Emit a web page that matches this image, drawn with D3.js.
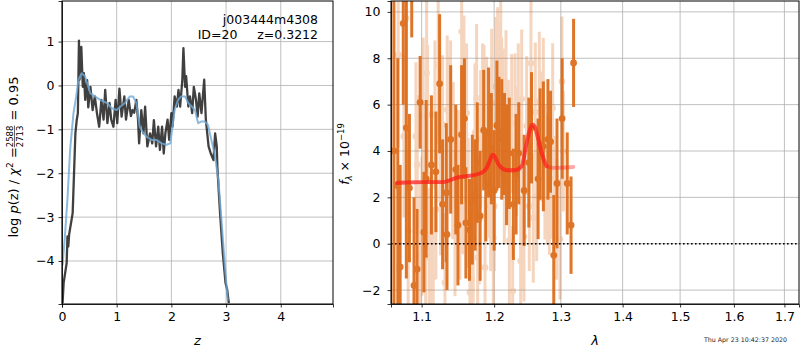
<!DOCTYPE html>
<html>
<head>
<meta charset="utf-8">
<script src="https://cdn.jsdelivr.net/npm/d3@7"></script>
<style>
  body { margin: 0; background: #fff; }
  svg { font-family: "DejaVu Sans", sans-serif; }
  .grid line { stroke: #b0b0b0; stroke-width: 0.8; }
  .axis path, .axis line { stroke: #000; stroke-width: 0.8; }
  .axis text { font-size: 12.5px; fill: #000; font-family: "DejaVu Sans", sans-serif; }
</style>
</head>
<body>
<svg id="chart" width="800" height="350"></svg>
<script>
// ---- left panel: log p(z)
const zTicks = [0, 1, 2, 3, 4]
const lpTicks = [-4, -3, -2, -1, 0, 1]
const pzZ = [0.01, 0.03, 0.085, 0.10, 0.115, 0.13, 0.195, 0.22, 0.245, 0.27, 0.29, 0.31, 0.32, 0.353, 0.38, 0.40, 0.425, 0.46, 0.48, 0.52, 0.56, 0.60, 0.64, 0.68, 0.72, 0.76, 0.79, 0.83, 0.87, 0.90, 0.94, 0.98, 1.01, 1.05, 1.09, 1.14, 1.17, 1.22, 1.26, 1.29, 1.32, 1.36, 1.39, 1.41, 1.45, 1.49, 1.52, 1.56, 1.61, 1.65, 1.68, 1.72, 1.76, 1.79, 1.83, 1.86, 1.89, 1.93, 1.96, 2.00, 2.02, 2.06, 2.10, 2.13, 2.16, 2.20, 2.22, 2.25, 2.27, 2.31, 2.34, 2.38, 2.41, 2.45, 2.48, 2.51, 2.55, 2.60, 2.63, 2.68, 2.72, 2.77, 2.80, 2.83, 2.84, 2.89, 2.94, 2.99, 3.02, 3.05]
const pzLog = [-4.96, -4.5, -4.05, -3.44, -3.67, -3.4, -2.91, -2.0, -1.09, -0.78, -0.63, 1.02, 0.13, 0.88, -0.03, 0.28, -0.33, 0.12, -0.5, -0.03, -0.56, -0.25, -0.64, -0.94, -0.33, -0.78, -0.1, -0.86, -0.4, -0.78, -0.94, -0.33, -0.86, -0.07, -0.71, -0.25, -0.78, -0.33, -0.7, -0.56, -0.62, -0.33, -0.78, -1.32, -0.56, -1.09, -0.48, -1.39, -1.09, -1.32, -0.79, -1.39, -0.94, -1.47, -0.94, -1.55, -1.09, -0.78, -1.24, -0.63, -0.94, -0.25, -0.48, -0.1, -0.48, 0.13, 0.85, -0.03, 0.21, -0.48, -0.25, -0.63, -0.03, -0.33, -0.71, -0.18, -0.63, 0.13, -0.78, -1.39, -1.55, -1.7, -1.09, -1.39, -1.85, -2.91, -3.82, -4.5, -4.65, -4.96]
const chiZ = [0.01, 0.05, 0.10, 0.15, 0.21, 0.26, 0.30, 0.36, 0.42, 0.48, 0.52, 0.60, 0.70, 0.82, 0.91, 1.00, 1.07, 1.15, 1.24, 1.30, 1.36, 1.42, 1.49, 1.55, 1.64, 1.73, 1.82, 1.91, 1.98, 2.02, 2.06, 2.12, 2.18, 2.25, 2.31, 2.37, 2.43, 2.49, 2.55, 2.61, 2.67, 2.73, 2.79, 2.86, 2.92, 2.98, 3.03]
const chiLog = [-4.1, -3.49, -2.58, -1.44, -0.63, -0.25, 0.13, 0.28, 0.21, -0.03, -0.18, -0.25, -0.33, -0.4, -0.52, -0.56, -0.48, -0.4, -0.25, -0.25, -0.4, -0.94, -1.09, -1.17, -1.24, -1.24, -1.32, -1.35, -1.32, -0.94, -0.56, -0.33, -0.25, -0.25, -0.4, -0.48, -0.56, -0.86, -0.82, -0.82, -0.9, -1.24, -1.55, -2.16, -3.15, -4.13, -4.9]

// ---- right panel: spectrum
const lamTicks = [1.1, 1.2, 1.3, 1.4, 1.5, 1.6, 1.7]
const fluxTicks = [-2, 0, 2, 4, 6, 8, 10]
const darkLam = [1.064, 1.069, 1.072, 1.076, 1.080, 1.084, 1.087, 1.090, 1.094, 1.098, 1.103, 1.106, 1.113, 1.119, 1.124, 1.128, 1.133, 1.134, 1.139, 1.146, 1.149, 1.154, 1.158, 1.160, 1.165, 1.169, 1.173, 1.176, 1.180, 1.185, 1.188, 1.192, 1.196, 1.200, 1.204, 1.207, 1.211, 1.215, 1.218, 1.222, 1.228, 1.232, 1.236, 1.244, 1.251, 1.255, 1.265, 1.268, 1.273, 1.280, 1.284, 1.289, 1.294, 1.302, 1.310, 1.316, 1.320]
const darkFlux = [4.0, 2.5, -1.0, 9.5, 5.0, 2.4, 11.5, -1.8, -1.1, 6.1, 0.5, 2.8, 3.4, 3.1, 6.9, 1.7, 2.2, 0.4, 4.5, 3.2, 0.8, 4.7, 5.4, 0.9, 0.6, 1.9, 2.1, 3.5, 1.2, 4.9, 2.5, 4.8, 4.1, 2.3, 5.1, 4.8, 4.5, 4.3, 3.4, 3.9, 1.7, 3.0, 3.9, 2.3, 3.5, 5.0, 2.8, 4.3, 4.2, 4.5, 4.4, -0.5, 2.6, 5.4, 2.6, 0.8, 7.8]
const darkErr = [8.0, 5.5, 4.4, 3.5, 6.5, 3.2, 2.6, 3.8, 2.6, 2.0, 2.6, 3.4, 3.0, 2.6, 3.0, 2.8, 3.0, 2.4, 3.2, 2.8, 2.6, 3.0, 2.6, 2.4, 2.2, 2.8, 2.4, 2.6, 2.8, 2.6, 2.4, 2.8, 2.4, 2.6, 2.8, 2.4, 2.6, 2.2, 2.6, 2.4, 2.4, 2.6, 2.2, 2.4, 2.8, 2.4, 2.6, 2.4, 2.8, 2.6, 2.2, 2.6, 2.8, 2.6, 2.2, 2.1, 1.9]
const lightLam = [1.0695, 1.0769, 1.0795, 1.0824, 1.0925, 1.0942, 1.0978, 1.1004, 1.1021, 1.1053, 1.1066, 1.1079, 1.1101, 1.1124, 1.1154, 1.1177, 1.1190, 1.1221, 1.1244, 1.1254, 1.1280, 1.1312, 1.1343, 1.1370, 1.1389, 1.1417, 1.1425, 1.1449, 1.1494, 1.1518, 1.1541, 1.1555, 1.1573, 1.1587, 1.1610, 1.1632, 1.1657, 1.1680, 1.1702, 1.1727, 1.1750, 1.1765, 1.1787, 1.1807, 1.1835, 1.1855, 1.1869, 1.1892, 1.1931, 1.1950, 1.1964, 1.1988, 1.2002, 1.2026, 1.2051, 1.2070, 1.2095, 1.2109, 1.2133, 1.2147, 1.2172, 1.2206, 1.2221, 1.2255, 1.2270, 1.2304, 1.2329, 1.2353, 1.2388, 1.2403, 1.2418, 1.2437, 1.2477, 1.2517, 1.2542, 1.2577, 1.2607, 1.2628, 1.2668, 1.2689, 1.2729, 1.2754, 1.2790, 1.2821, 1.2842, 1.2873, 1.2893, 1.2936, 1.2986, 1.3018, 1.3039]
const lightFlux = [8.15, 4.63, 9.73, 0.54, 4.63, 3.41, -0.53, 0.76, 5.49, -0.10, 7.36, 5.57, -0.60, -0.10, -1.46, 5.57, 1.48, 7.72, 4.78, 2.70, 5.13, -1.68, 5.78, 5.06, 5.57, 3.20, 3.77, 0.54, 2.77, 1.45, 9.15, 2.55, 6.64, 4.78, 5.64, 1.76, -2.10, -1.54, 0.26, 4.78, 6.28, -0.60, 1.05, 4.49, 5.64, 5.57, -1.03, 5.06, 3.06, 1.62, 6.07, 0.26, 1.62, 6.78, 7.00, 6.57, 7.86, 5.90, 5.42, 2.77, 6.21, 4.27, 0.14, 5.18, -2.04, 5.21, 3.99, 5.64, -0.75, 6.24, 0.83, 0.30, 5.09, 1.62, 7.79, 1.12, 5.68, 2.05, 6.14, 4.63, 5.88, 2.98, 2.77, 2.12, 2.80, 5.85, 2.05, 1.05, 0.19, 7.00, 3.99]
const lightErr = [4.0, 3.5, 4.0, 3.5, 3.2, 3.0, 3.2, 3.0, 3.4, 2.8, 3.4, 3.0, 3.0, 3.2, 3.0, 3.2, 3.0, 3.4, 3.0, 3.2, 3.0, 3.0, 3.2, 3.0, 3.2, 3.0, 3.2, 2.8, 3.0, 3.0, 3.4, 3.0, 3.2, 3.0, 3.0, 2.8, 3.0, 3.0, 2.8, 3.0, 3.2, 3.0, 2.8, 3.0, 3.0, 3.0, 3.0, 3.0, 2.8, 2.8, 3.2, 3.0, 2.8, 3.0, 3.2, 3.0, 3.2, 3.0, 3.0, 2.8, 3.0, 2.8, 3.0, 3.0, 2.8, 3.0, 2.8, 3.0, 2.8, 3.0, 2.8, 2.8, 3.0, 2.8, 3.0, 2.8, 3.0, 2.8, 3.0, 2.8, 3.0, 2.8, 2.8, 2.6, 2.6, 2.8, 2.6, 2.6, 2.6, 2.8, 2.6]
const modelLam = [1.068, 1.0703, 1.1021, 1.1287, 1.1465, 1.1797, 1.1892, 1.194, 1.1977, 1.2005, 1.2035, 1.2084, 1.218, 1.2304, 1.2403, 1.2477, 1.253, 1.2566, 1.2600, 1.2628, 1.2703, 1.2779, 1.2879, 1.3196]
const modelFlux = [2.62, 2.63, 2.66, 2.66, 2.84, 3.03, 3.27, 3.6, 3.84, 3.78, 3.6, 3.34, 3.17, 3.17, 3.34, 4.35, 4.95, 5.14, 5.05, 4.78, 3.92, 3.34, 3.27, 3.31]

const svg = d3.select('#chart')
const left = { x0: 62, x1: 333, y0: 1, y1: 304 }
const right = { x0: 391, x1: 799, y0: 1, y1: 304 }

// ---------- left panel
const xz = d3.scaleLinear().domain([0, 4.955]).range([left.x0, left.x1])
const ylp = d3.scaleLinear().domain([-4.98, 1.925]).range([left.y1, left.y0])
const gl = svg.append('g')

gl.append('g').attr('class', 'grid')
  .selectAll('line').data(zTicks).join('line')
  .attr('x1', d => xz(d)).attr('x2', d => xz(d)).attr('y1', left.y0).attr('y2', left.y1)
gl.append('g').attr('class', 'grid')
  .selectAll('line').data(lpTicks).join('line')
  .attr('x1', left.x0).attr('x2', left.x1).attr('y1', d => ylp(d)).attr('y2', d => ylp(d))

gl.append('defs').append('clipPath').attr('id', 'clipL')
  .append('rect').attr('x', left.x0).attr('y', left.y0)
  .attr('width', left.x1 - left.x0).attr('height', left.y1 - left.y0)

const lineL = d3.line().x(d => xz(d[0])).y(d => ylp(d[1]))
const plot = gl.append('g').attr('clip-path', 'url(#clipL)')
plot.append('path')
  .attr('d', lineL(pzZ.map((z, i) => [z, pzLog[i]])))
  .attr('fill', 'none').attr('stroke', '#1e1e1e').attr('stroke-opacity', 0.85)
  .attr('stroke-width', 2.3).attr('stroke-linejoin', 'round')
plot.append('path')
  .attr('d', lineL(chiZ.map((z, i) => [z, chiLog[i]])))
  .attr('fill', 'none').attr('stroke', '#6fa8d6').attr('stroke-opacity', 0.8)
  .attr('stroke-width', 2).attr('stroke-linejoin', 'round')

gl.append('g').attr('class', 'axis')
  .attr('transform', 'translate(0,' + left.y1 + ')')
  .call(d3.axisBottom(xz).tickValues(zTicks).tickSize(3.5).tickPadding(5).tickFormat(d3.format('d')))
gl.append('g').attr('class', 'axis')
  .attr('transform', 'translate(' + left.x0 + ',0)')
  .call(d3.axisLeft(ylp).tickValues(lpTicks).tickSize(3.5).tickPadding(4).tickFormat(d => d < 0 ? '\u2212' + Math.abs(d) : d))
gl.append('rect').attr('x', left.x0).attr('y', left.y0)
  .attr('width', left.x1 - left.x0).attr('height', left.y1 - left.y0)
  .attr('fill', 'none').attr('stroke', '#000').attr('stroke-width', 1)

gl.append('text').attr('x', 318).attr('y', 24).attr('text-anchor', 'end')
  .attr('font-size', 12.5).text('j003444m4308')
gl.append('text').attr('x', 318).attr('y', 39).attr('text-anchor', 'end')
  .attr('font-size', 12.5).attr('xml:space', 'preserve').text('ID=20     z=0.3212')

gl.append('text').attr('x', (left.x0 + left.x1) / 2).attr('y', 345)
  .attr('text-anchor', 'middle').attr('font-size', 13).attr('font-style', 'italic').text('z')

// y label with a stacked fraction
const yl = gl.append('g').attr('transform', 'translate(18,157) rotate(-90)')
const t1 = yl.append('text').attr('font-size', 13).attr('x', 0).attr('y', 0)
t1.append('tspan').text('log ')
t1.append('tspan').attr('font-style', 'italic').text('p')
t1.append('tspan').text('(z) / ')
t1.append('tspan').attr('font-style', 'italic').text('\u03c7')
t1.append('tspan').attr('font-size', 9).attr('dy', -5).text('2')
t1.append('tspan').attr('dy', 5).text(' = ')
const w1 = t1.node().getComputedTextLength()
const num = yl.append('text').attr('font-size', 8.5).attr('x', w1).attr('y', -5).text('2588')
const den = yl.append('text').attr('font-size', 8.5).attr('x', w1).attr('y', 5).text('2713')
const wf = Math.max(num.node().getComputedTextLength(), den.node().getComputedTextLength())
yl.append('line').attr('x1', w1).attr('x2', w1 + wf).attr('y1', -3.5).attr('y2', -3.5)
  .attr('stroke', '#000').attr('stroke-width', 0.6)
const t3 = yl.append('text').attr('font-size', 13).attr('x', w1 + wf + 1).attr('y', 0)
  .attr('xml:space', 'preserve').text(' = 0.95')
const total = w1 + wf + 1 + t3.node().getComputedTextLength()
yl.selectAll('text,line').attr('transform', 'translate(' + (-total / 2) + ',0)')

// ---------- right panel
const xl = d3.scaleLog().domain([1.0603, 1.730]).range([right.x0, right.x1])
const yf = d3.scaleLinear().domain([-2.6, 10.47]).range([right.y1, right.y0])
const gr = svg.append('g')

gr.append('g').attr('class', 'grid')
  .selectAll('line').data(lamTicks).join('line')
  .attr('x1', d => xl(d)).attr('x2', d => xl(d)).attr('y1', right.y0).attr('y2', right.y1)
gr.append('g').attr('class', 'grid')
  .selectAll('line').data(fluxTicks).join('line')
  .attr('x1', right.x0).attr('x2', right.x1).attr('y1', d => yf(d)).attr('y2', d => yf(d))

gr.append('defs').append('clipPath').attr('id', 'clipR')
  .append('rect').attr('x', right.x0).attr('y', right.y0)
  .attr('width', right.x1 - right.x0).attr('height', right.y1 - right.y0)
const pr = gr.append('g').attr('clip-path', 'url(#clipR)')

const orange = '#dd6a17'
const light = lightLam.map((l, i) => ({ l, f: lightFlux[i], e: lightErr[i] }))
const dark = darkLam.map((l, i) => ({ l, f: darkFlux[i], e: darkErr[i] }))

const lg = pr.append('g').attr('opacity', 0.28)
light.forEach(d => {
  lg.append('line').attr('x1', xl(d.l)).attr('x2', xl(d.l))
    .attr('y1', yf(d.f - d.e)).attr('y2', yf(d.f + d.e))
    .attr('stroke', orange).attr('stroke-width', 3)
  lg.append('circle').attr('cx', xl(d.l)).attr('cy', yf(d.f)).attr('r', 3.3).attr('fill', orange)
})

const dg = pr.append('g').attr('opacity', 0.92)
dark.forEach(d => {
  dg.append('line').attr('x1', xl(d.l)).attr('x2', xl(d.l))
    .attr('y1', yf(d.f - d.e)).attr('y2', yf(d.f + d.e))
    .attr('stroke', orange).attr('stroke-width', 3)
  dg.append('circle').attr('cx', xl(d.l)).attr('cy', yf(d.f)).attr('r', 3.4).attr('fill', orange)
})

const lineR = d3.line().x(d => xl(d[0])).y(d => yf(d[1])).curve(d3.curveMonotoneX)
const model = modelLam.map((l, i) => [l, modelFlux[i]])
pr.append('path').attr('d', lineR(model))
  .attr('fill', 'none').attr('stroke', '#ff1a1a').attr('stroke-opacity', 0.38)
  .attr('stroke-width', 3.8).attr('stroke-linecap', 'round')
pr.append('path').attr('d', lineR(model.filter(d => d[0] <= 1.28)))
  .attr('fill', 'none').attr('stroke', '#ff1a1a').attr('stroke-opacity', 0.55)
  .attr('stroke-width', 3.8).attr('stroke-linecap', 'round')

pr.append('line').attr('x1', right.x0).attr('x2', right.x1)
  .attr('y1', yf(0)).attr('y2', yf(0))
  .attr('stroke', '#000').attr('stroke-width', 1.6).attr('stroke-dasharray', '1.6,2.4')

gr.append('g').attr('class', 'axis')
  .attr('transform', 'translate(0,' + right.y1 + ')')
  .call(d3.axisBottom(xl).tickValues(lamTicks).tickSize(3.5).tickPadding(5).tickFormat(d3.format('.1f')))
gr.append('g').attr('class', 'axis')
  .attr('transform', 'translate(' + right.x0 + ',0)')
  .call(d3.axisLeft(yf).tickValues(fluxTicks).tickSize(3.5).tickPadding(7).tickFormat(d => d < 0 ? '\u2212' + Math.abs(d) : d))
gr.append('rect').attr('x', right.x0).attr('y', right.y0)
  .attr('width', right.x1 - right.x0).attr('height', right.y1 - right.y0)
  .attr('fill', 'none').attr('stroke', '#000').attr('stroke-width', 1)

gr.append('text').attr('x', (right.x0 + right.x1) / 2).attr('y', 345)
  .attr('text-anchor', 'middle').attr('font-size', 13).attr('font-style', 'italic').text('\u03bb')

const yr = gr.append('text').attr('font-size', 12.5)
  .attr('transform', 'translate(349,154) rotate(-90)').attr('text-anchor', 'middle')
yr.append('tspan').attr('font-style', 'italic').text('f')
yr.append('tspan').attr('font-size', 8.5).attr('dy', 3).attr('font-style', 'italic').text('\u03bb')
yr.append('tspan').attr('dy', -3).text(' \u00d7 10')
yr.append('tspan').attr('font-size', 8.5).attr('dy', -5).text('\u221219')

svg.append('text').attr('x', 787).attr('y', 342).attr('text-anchor', 'end')
  .attr('font-size', 6.3).attr('fill', '#222').text('Thu Apr 23 10:42:37 2020')
</script>
</body>
</html>
